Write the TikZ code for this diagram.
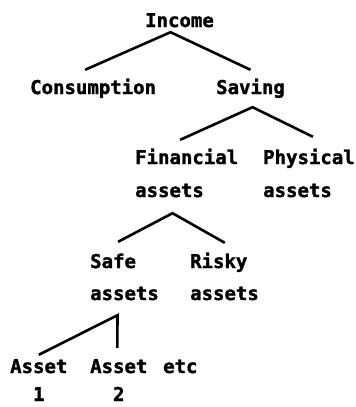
\documentclass[tikz,border=0pt]{standalone}
\usepackage{fontspec}
\newfontfamily\heavymono{DejaVu Sans Mono}[FakeBold=1.6]
\begin{document}
\begin{tikzpicture}[x=1pt,y=-1pt,
      lbl/.style={anchor=base west,inner sep=0pt,text height=13pt,text depth=4pt,
        font=\fontsize{19}{19}\selectfont\heavymono\bfseries},
      num/.style={lbl,anchor=base,text depth=0pt},
      branch/.style={line width=2.6pt}]
      \useasboundingbox (0,0) rectangle (356,407);
      \path (145,27) node[lbl] (inc) {Income};
      \path (30,94) node[lbl] (con) {Consumption};
      \path (216,94) node[lbl] (sav) {Saving};
      \path (135,164) node[lbl] (fin) {Financial};
      \path (135,197) node[lbl] (fina) {assets};
      \path (263,164) node[lbl] (phy) {Physical};
      \path (263,197) node[lbl] (phya) {assets};
      \path (90,268) node[lbl] (saf) {Safe};
      \path (90,300) node[lbl] (safa) {assets};
      \path (190,268) node[lbl] (ris) {Risky};
      \path (190,300) node[lbl] (risa) {assets};
      \path (10,373) node[lbl] (as1) {Asset};
      \path (90,373) node[lbl] (as2) {Asset};
      \path (163,373) node[lbl] (etc) {etc};
      \path ([yshift=-28pt]as1.base) node[num] (n1) {1};
      \path ([yshift=-28pt]as2.base) node[num] (n2) {2};
      % branches
      \draw[branch] ([xshift=-8pt,yshift=11pt]con.north) -- ([xshift=-9pt,yshift=-1pt]inc.south)
        -- ([yshift=11pt]sav.north);
      \draw[branch] ([xshift=-6.5pt,yshift=11pt]fin.north) -- ([xshift=2pt,yshift=-9pt]sav.south)
        -- ([xshift=4pt,yshift=14pt]phy.north);
      \draw[branch] ([xshift=5pt,yshift=13pt]saf.north) -- ([xshift=3pt,yshift=-12pt]fina.south)
        -- ([xshift=6pt,yshift=12pt]ris.north);
      \draw[branch] ([yshift=5pt]as1.north) -- ([xshift=-7pt,yshift=-11pt]safa.south)
        -- ([xshift=-1.5pt,yshift=12pt]as2.north);
\end{tikzpicture}
\end{document}
